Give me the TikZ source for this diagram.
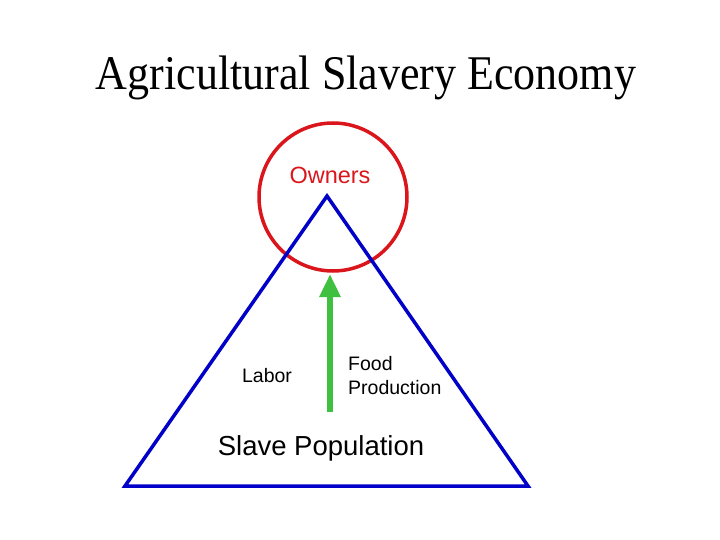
\documentclass[tikz,border=0pt]{standalone}
\usepackage{fontspec}
\setmainfont{Liberation Serif}
\setsansfont{Liberation Sans}
\usetikzlibrary{arrows.meta}
\definecolor{cred}{RGB}{218,22,28}
\definecolor{cblue}{RGB}{0,0,200}
\definecolor{cgreen}{RGB}{64,192,64}
\tikzset{
  lbl/.style={font=\sffamily\fontsize{19.5}{24}\selectfont, inner sep=0pt},
}
\begin{document}
\begin{tikzpicture}[x=1pt,y=-1pt]
\useasboundingbox (0,0) rectangle (720,540);
\node[font=\fontsize{44}{50}\selectfont, inner sep=0pt, yscale=1.1] (title) at (366,78) {Agricultural Slavery Economy};
\node[draw=cred, line width=3.5pt, circle, minimum size=148pt, inner sep=0pt] (own) at (333,197) {};
\node[font=\sffamily\fontsize{23.5}{28}\selectfont, text=cred, inner sep=0pt] (ownlbl) at (330,175) {Owners};
\coordinate (apex) at (327,196);
\coordinate (bl) at (125,486);
\coordinate (br) at (528,486);
\draw[cblue, line width=3.5pt, line join=miter] (apex) -- (bl) -- (br) -- cycle;
\coordinate (arrbot) at (330,412);
\coordinate (arrtop) at (330,274);
\draw[cgreen, line width=6pt, -{Triangle[width=20pt,length=23pt]}] (arrbot) -- (arrtop);
\node[lbl] (labor) at (267,376) {Labor};
\node[lbl, anchor=west, align=left, font=\sffamily\fontsize{19.5}{24}\selectfont] (food) at (348,376) {Food\\Production};
\node[font=\sffamily\fontsize{27.5}{32}\selectfont, inner sep=0pt] (slave) at (321,448) {Slave Population};
\end{tikzpicture}
\end{document}
